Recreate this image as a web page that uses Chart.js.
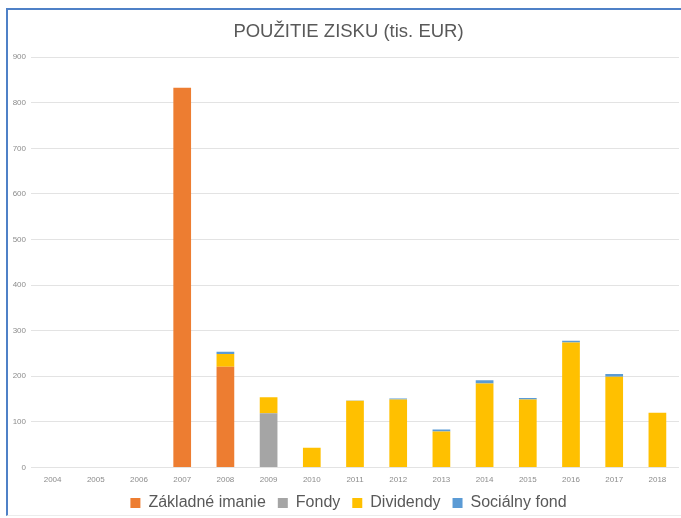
<!DOCTYPE html>
<html>
<head>
<meta charset="utf-8">
<script src="https://cdn.jsdelivr.net/npm/chart.js@4"></script>
<style>
  html, body { margin: 0; padding: 0; background: #fff; }
  #wrap { position: absolute; left: 0; top: 0; width: 681px; height: 518px; }
  #frame {
    position: absolute; left: 6px; top: 8px; width: 680px; height: 505px;
    border-left: 2px solid #4f81c7; border-top: 2px solid #4f81c7;
    border-bottom: 1px solid #ececec; pointer-events: none;
  }
</style>
</head>
<body>
<div id="wrap"><canvas id="chart"></canvas></div>
<div id="frame"></div>
<script>
// Data (tis. EUR)
const years = ["2004", "2005", "2006", "2007", "2008", "2009", "2010", "2011",
  "2012", "2013", "2014", "2015", "2016", "2017", "2018"];
const zakladneImanie = [0, 0, 0, 833, 221, 0, 0, 0, 0, 0, 0, 0, 0, 0, 0];
const fondy = [0, 0, 0, 0, 0, 119, 0, 0, 0, 0, 0, 0, 0, 0, 0];
const dividendy = [0, 0, 0, 0, 28, 35, 43, 146, 149, 79, 184, 149, 274, 199, 120];
const socialnyFond = [0, 0, 0, 0, 5, 0, 0, 1, 2, 4, 7, 3, 4, 6, 0];

const font = "'Liberation Sans', 'DejaVu Sans', sans-serif";
const textGrey = "#595959";

// title and legend are centred on the framed area, not the canvas
const shiftBlocks = {
  id: "shiftBlocks",
  afterLayout(chart) {
    const t = chart.titleBlock;
    if (t) { t.left += 9; t.right += 9; }
    const l = chart.legend;
    if (l) { l.left += 9; l.right += 9; l.top -= 2; l.bottom -= 2; }
  }
};

const ctx = document.getElementById("chart");

new Chart(ctx, {
  type: "bar",
  data: {
    labels: years,
    datasets: [
      { label: "Základné imanie", data: zakladneImanie, backgroundColor: "#ED7D31" },
      { label: "Fondy", data: fondy, backgroundColor: "#A5A5A5" },
      { label: "Dividendy", data: dividendy, backgroundColor: "#FFC000" },
      { label: "Sociálny fond", data: socialnyFond, backgroundColor: "#5B9BD5" }
    ]
  },
  options: {
    responsive: true,
    maintainAspectRatio: false,
    animation: false,
    datasets: { bar: { categoryPercentage: 1, barPercentage: 0.41 } },
    layout: { padding: { top: 10, left: 0, right: 2, bottom: -5 } },
    plugins: {
      title: {
        display: true,
        text: "POUŽITIE ZISKU (tis. EUR)",
        color: textGrey,
        font: { family: font, size: 18.5, weight: "normal" },
        padding: { top: 11, bottom: 14 }
      },
      legend: {
        position: "bottom",
        labels: {
          boxWidth: 10,
          boxHeight: 10,
          padding: 12,
          color: textGrey,
          font: { family: font, size: 16 }
        }
      },
      tooltip: { enabled: false }
    },
    scales: {
      x: {
        stacked: true,
        grid: { display: false },
        border: { display: false },
        ticks: { color: "#8c8c8c", font: { family: font, size: 8 }, padding: 0, maxRotation: 0 }
      },
      y: {
        stacked: true,
        min: 0,
        max: 900,
        border: { display: false },
        grid: { color: "#e3e3e3", drawTicks: false },
        ticks: { stepSize: 100, color: "#8c8c8c", font: { family: font, size: 8 }, padding: 5 },
        afterFit: scale => { scale.width = 31; }
      }
    }
  },
  plugins: [shiftBlocks]
});
</script>
</body>
</html>
